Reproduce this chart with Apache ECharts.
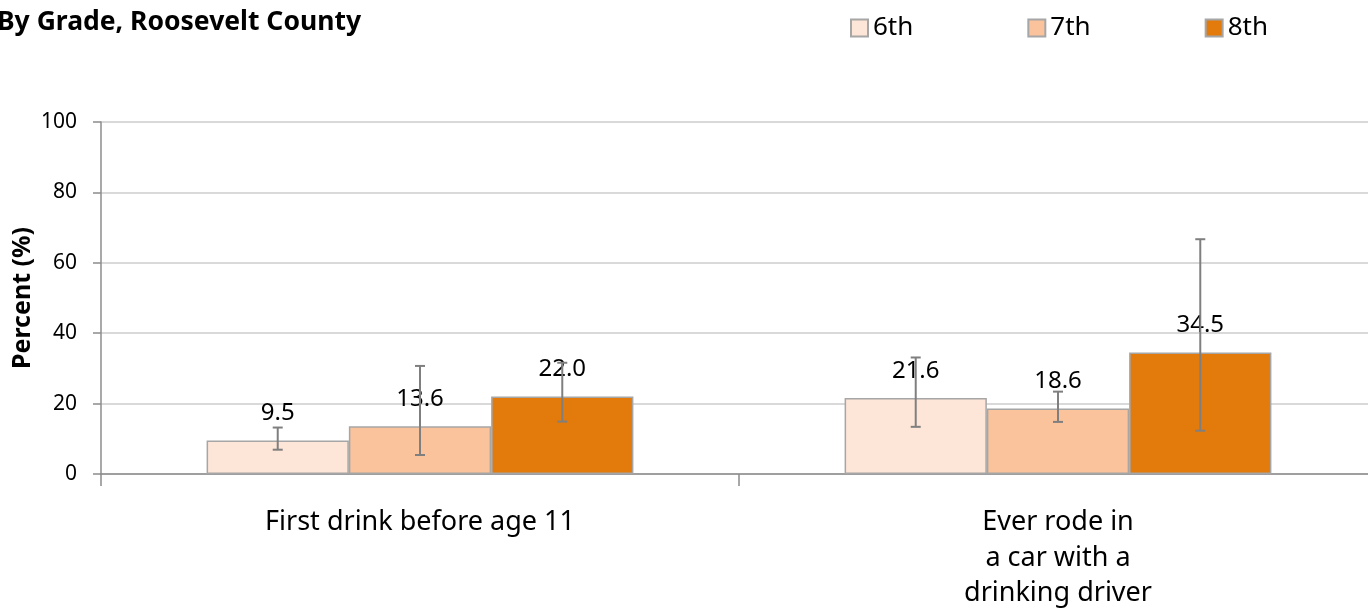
<!DOCTYPE html>
<html>
<head>
<meta charset="utf-8">
<script src="https://cdn.jsdelivr.net/npm/echarts@6/dist/echarts.min.js"></script>
<style>
html,body{margin:0;padding:0;background:#fff;overflow:hidden;}
#chart{width:1368px;height:608px;}
</style>
</head>
<body>
<div id="chart"></div>
<script>
var titleText = 'By Grade, Roosevelt County';
var categories = ['First drink before age 11', 'Ever rode in\na car with a\ndrinking driver'];
var gradeNames = ['6th', '7th', '8th'];
var values6 = [9.5, 21.6];
var values7 = [13.6, 18.6];
var values8 = [22.0, 34.5];
var errLow6 = [6.9, 13.4];
var errHigh6 = [13.2, 33.1];
var errLow7 = [5.4, 14.8];
var errHigh7 = [30.7, 23.4];
var errLow8 = [14.9, 12.3];
var errHigh8 = [31.6, 66.7];
var yTicks = [0, 20, 40, 60, 80, 100];

var colors = ['#fde5d7', '#fbc39b', '#e27b0c'];
var FONT = 'Noto Sans';
var BAR_FRAC = 0.223;

var values = [values6, values7, values8];
var lows = [errLow6, errLow7, errLow8];
var highs = [errHigh6, errHigh7, errHigh8];

var errData = [];
for (var s = 0; s < 3; s++) {
  for (var c = 0; c < categories.length; c++) {
    errData.push([c, lows[s][c], highs[s][c], s]);
  }
}

function renderErr(params, api) {
  var ci = api.value(0), lo = api.value(1), hi = api.value(2), si = api.value(3);
  var band = api.size([1, 0])[0];
  var bw = band * BAR_FRAC;
  var cx = api.coord([ci, 0])[0] + (si - 1) * bw;
  var yt = api.coord([ci, hi])[1];
  var yb = api.coord([ci, lo])[1];
  var cap = 5;
  var st = {stroke: '#7f7f7f', lineWidth: 2};
  return {
    type: 'group',
    children: [
      {type: 'line', shape: {x1: cx, y1: yt, x2: cx, y2: yb}, style: st},
      {type: 'line', shape: {x1: cx - cap, y1: yt, x2: cx + cap, y2: yt}, style: st},
      {type: 'line', shape: {x1: cx - cap, y1: yb, x2: cx + cap, y2: yb}, style: st}
    ]
  };
}

var barSeries = gradeNames.map(function (g, i) {
  return {
    name: g,
    type: 'bar',
    data: values[i],
    barWidth: (BAR_FRAC * 100) + '%',
    barGap: '0%',
    itemStyle: {color: colors[i], borderColor: '#a6a6a6', borderWidth: 1.5},
    label: {
      show: true, position: 'top', distance: 15,
      fontFamily: FONT, fontSize: 24, color: '#000',
      formatter: function (p) { return p.value.toFixed(1); }
    },
    z: 2
  };
});

var chart = echarts.init(document.getElementById('chart'), null, {renderer: 'canvas'});
chart.setOption({
  animation: false,
  backgroundColor: '#fff',
  title: {
    text: titleText, left: -8, top: 4,
    textStyle: {fontFamily: FONT, fontSize: 26.5, fontWeight: 'bold', color: '#000'}
  },
  legend: {
    data: gradeNames, left: 845, top: 10, icon: 'rect',
    itemWidth: 17, itemHeight: 17, itemGap: 114,
    textStyle: {fontFamily: FONT, fontSize: 26, color: '#000'}
  },
  grid: {left: 101, width: 1276, top: 122, height: 352, containLabel: false, outerBoundsMode: 'none'},
  xAxis: {
    type: 'category', data: categories,
    axisLine: {lineStyle: {color: '#8c8c8c', width: 1.5}},
    axisTick: {show: true, length: 12, lineStyle: {color: '#8c8c8c', width: 1.5}},
    axisLabel: {fontFamily: FONT, fontSize: 27, color: '#000', lineHeight: 35.5, margin: 31, interval: 0}
  },
  yAxis: {
    type: 'value', min: yTicks[0], max: yTicks[yTicks.length - 1], interval: yTicks[1] - yTicks[0],
    name: 'Percent (%)', nameLocation: 'middle', nameGap: 66, nameMoveOverlap: false,
    nameTextStyle: {fontFamily: FONT, fontSize: 25, fontWeight: 'bold', color: '#000'},
    axisLine: {show: true, lineStyle: {color: '#8c8c8c', width: 1.5}},
    axisTick: {show: true, length: 8, lineStyle: {color: '#8c8c8c', width: 1.5}},
    axisLabel: {fontFamily: FONT, fontSize: 21, color: '#000', margin: 24},
    splitLine: {lineStyle: {color: '#cccccc', width: 1.5}}
  },
  series: barSeries.concat([{
    type: 'custom',
    renderItem: renderErr,
    data: errData,
    encode: {x: 0, y: [1, 2]},
    z: 3,
    silent: true
  }])
});
</script>
</body>
</html>
